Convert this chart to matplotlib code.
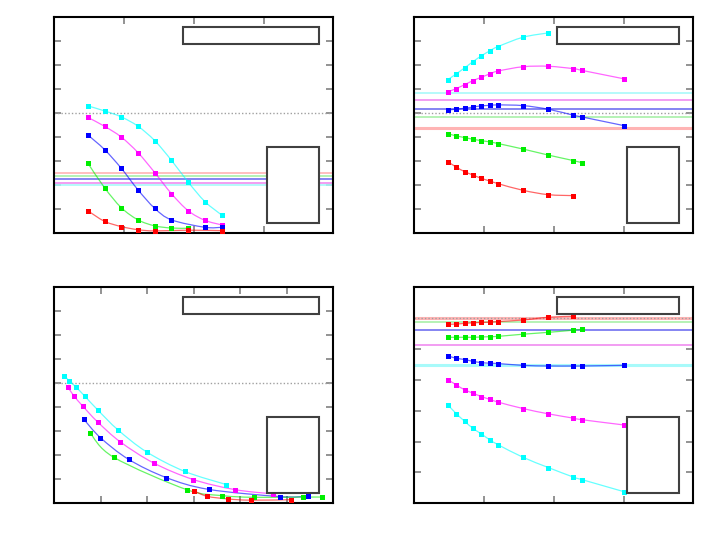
import matplotlib
matplotlib.use("Agg")
import matplotlib.pyplot as plt
from matplotlib.patches import Rectangle, PathPatch
from matplotlib.path import Path

# ---------------- data ----------------
# top-left panel
tl_x = [0.24, 0.36, 0.48, 0.60, 0.72, 0.84, 0.96, 1.08, 1.20]
tl_cyan = [5.31, 5.10, 4.85, 4.46, 3.86, 3.04, 2.13, 1.32, 0.76]
tl_magenta = [4.83, 4.46, 4.01, 3.36, 2.53, 1.65, 0.94, 0.54, 0.35]
tl_blue_x = [0.24, 0.36, 0.48, 0.60, 0.72, 0.84, 1.08, 1.20]
tl_blue = [4.10, 3.49, 2.71, 1.81, 1.04, 0.56, 0.25, 0.25]
tl_green_x = [0.24, 0.36, 0.48, 0.60, 0.72, 0.84, 0.96]
tl_green = [2.93, 1.90, 1.07, 0.56, 0.31, 0.22, 0.21]
tl_red_x = [0.24, 0.36, 0.48, 0.60, 0.72, 0.96, 1.20]
tl_red = [0.94, 0.50, 0.28, 0.15, 0.10, 0.13, 0.11]
tl_hlines = {"red": 2.50, "green": 2.40, "blue": 2.25, "magenta": 2.10, "cyan": 2.00}
tl_dotted = 5.0

# top-right panel
tr_x = [0.24, 0.30, 0.36, 0.42, 0.48, 0.54, 0.60, 0.78, 0.96, 1.14, 1.20, 1.50]
tr_cyan = [6.40, 6.64, 6.89, 7.15, 7.39, 7.60, 7.78, 8.17, 8.35]
tr_magenta = [5.89, 6.03, 6.19, 6.36, 6.50, 6.64, 6.76, 6.94, 6.96, 6.86, 6.79, 6.44]
tr_blue = [5.14, 5.17, 5.21, 5.26, 5.31, 5.33, 5.35, 5.32, 5.17, 4.92, 4.85, 4.49]
tr_green = [4.15, 4.06, 3.99, 3.92, 3.86, 3.81, 3.74, 3.51, 3.26, 3.03, 2.94]
tr_red = [2.99, 2.76, 2.57, 2.43, 2.29, 2.18, 2.07, 1.79, 1.61, 1.57]
tr_hlines = {"cyan": 5.83, "magenta": 5.56, "blue": 5.17, "green": 4.83, "red": 4.40}
tr_dotted = 5.0

# bottom-left panel
bl_cyan_x = [0.215, 0.315, 0.459, 0.652, 0.939, 1.369, 1.986, 2.803, 3.699]
bl_cyan = [5.32, 5.11, 4.86, 4.47, 3.88, 3.06, 2.14, 1.33, 0.78]
bl_magenta_x = [0.287, 0.416, 0.616, 0.932, 1.419, 2.136, 2.989, 3.885, 4.710]
bl_magenta = [4.86, 4.49, 4.04, 3.39, 2.56, 1.68, 0.99, 0.57, 0.39]
bl_blue_x = [0.631, 0.989, 1.599, 2.409, 3.319, 4.853, 5.448]
bl_blue = [3.51, 2.74, 1.83, 1.07, 0.58, 0.28, 0.29]
bl_green_x = [0.767, 1.276, 2.846, 3.613, 4.294, 5.348, 5.763]
bl_green = [2.94, 1.92, 0.57, 0.32, 0.25, 0.26, 0.26]
bl_red_x = [3.011, 3.290, 3.742, 4.222, 5.090]
bl_red = [0.51, 0.29, 0.18, 0.13, 0.15]
bl_dotted = 5.0

# bottom-right panel
br_x = [0.24, 0.30, 0.36, 0.42, 0.48, 0.54, 0.60, 0.78, 0.96, 1.14, 1.20, 1.50]
br_red = [5.80, 5.81, 5.83, 5.85, 5.86, 5.87, 5.89, 5.94, 6.03, 6.06]
br_green = [5.38, 5.38, 5.38, 5.38, 5.39, 5.40, 5.41, 5.48, 5.54, 5.61, 5.64]
br_blue = [4.78, 4.70, 4.66, 4.60, 4.56, 4.54, 4.53, 4.47, 4.45, 4.45, 4.45, 4.47]
br_magenta = [4.01, 3.84, 3.68, 3.57, 3.46, 3.37, 3.28, 3.07, 2.90, 2.76, 2.71, 2.54]
br_cyan = [3.19, 2.91, 2.66, 2.43, 2.25, 2.06, 1.90, 1.49, 1.16, 0.85, 0.77, 0.38]
br_hlines = {"red": 6.01, "green": 5.87, "blue": 5.61, "magenta": 5.12, "cyan": 4.48}
br_dotted = 6.01

# ---------------- style ----------------
COL = {"red": "#ff0000", "green": "#00ee00", "blue": "#0000ff",
       "magenta": "#ff00ff", "cyan": "#00ffff"}
HCOL = {"red": "#ffb4b4", "green": "#a8f0a8", "blue": "#7070f0",
        "magenta": "#f08cf0", "cyan": "#a8fafa"}

W, H = 720, 539
fig = plt.figure(figsize=(7.2, 5.39), dpi=100)


def make_ax(left_px, top_px, xlim, ylim, xticks, yticks):
    ax = fig.add_axes([left_px / W, 1 - (top_px + 216) / H, 279 / W, 216 / H])
    ax.set_xlim(*xlim)
    ax.set_ylim(*ylim)
    ax.set_xticks(xticks)
    ax.set_yticks(yticks)
    ax.set_xticklabels([])
    ax.set_yticklabels([])
    ax.tick_params(direction="in", top=True, right=True, length=5,
                   width=1.2, color="#808080")
    for s in ax.spines.values():
        s.set_linewidth(1.5)
        s.set_color("black")
    return ax


def smooth_path(x, y):
    """Cubic Bezier path through the points (Catmull-Rom style handles)."""
    n = len(x)
    verts = [(x[0], y[0])]
    codes = [Path.MOVETO]
    for i in range(n - 1):
        x0, y0 = (x[i - 1], y[i - 1]) if i > 0 else (x[i], y[i])
        x1, y1 = x[i], y[i]
        x2, y2 = x[i + 1], y[i + 1]
        x3, y3 = (x[i + 2], y[i + 2]) if i + 2 < n else (x2, y2)
        c1 = (x1 + (x2 - x0) / 6, y1 + (y2 - y0) / 6)
        c2 = (x2 - (x3 - x1) / 6, y2 - (y3 - y1) / 6)
        verts += [c1, c2, (x2, y2)]
        codes += [Path.CURVE4] * 3
    return Path(verts, codes)


def series(ax, x, y, c):
    xs = list(x[:len(y)])
    ax.add_patch(PathPatch(smooth_path(xs, y), facecolor="none",
                           edgecolor=COL[c], lw=0.9, alpha=0.6, zorder=3))
    ax.plot(xs, y, "s", color=COL[c], ms=3.6, mew=0, zorder=4)


def hlines(ax, d, thick=()):
    for c, v in d.items():
        ax.axhline(v, color=HCOL[c], lw=2.2 if c in thick else 1.2, zorder=2)


def dotted(ax, v):
    ax.axhline(v, color="#a0a0a0", lw=1.0, ls=(0, (1, 1.5)), zorder=2.5)


def boxes(ax, top_left_x):
    ax.add_patch(Rectangle((top_left_x, 0.877), 0.95 - top_left_x, 0.078,
                           transform=ax.transAxes, facecolor="white",
                           edgecolor="#404040", lw=1.5, zorder=10))
    ax.add_patch(Rectangle((0.761, 0.049), 0.189, 0.350,
                           transform=ax.transAxes, facecolor="white",
                           edgecolor="#404040", lw=1.5, zorder=10))


# top-left
ax1 = make_ax(54.3, 17.3, (0, 2), (0, 9), [0, 0.5, 1, 1.5, 2], range(10))
hlines(ax1, tl_hlines)
dotted(ax1, tl_dotted)
series(ax1, tl_x, tl_cyan, "cyan")
series(ax1, tl_x, tl_magenta, "magenta")
series(ax1, tl_blue_x, tl_blue, "blue")
series(ax1, tl_green_x, tl_green, "green")
series(ax1, tl_red_x, tl_red, "red")
boxes(ax1, 0.46)

# top-right
ax2 = make_ax(414.3, 17.3, (0, 2), (0, 9), [0, 0.5, 1, 1.5, 2], range(10))
hlines(ax2, tr_hlines, thick=("red",))
dotted(ax2, tr_dotted)
series(ax2, tr_x, tr_cyan, "cyan")
series(ax2, tr_x, tr_magenta, "magenta")
series(ax2, tr_x, tr_blue, "blue")
series(ax2, tr_x, tr_green, "green")
series(ax2, tr_x, tr_red, "red")
boxes(ax2, 0.511)

# bottom-left
ax3 = make_ax(54.3, 287.3, (0, 6), (0, 9), range(7), range(10))
dotted(ax3, bl_dotted)
series(ax3, bl_cyan_x, bl_cyan, "cyan")
series(ax3, bl_magenta_x, bl_magenta, "magenta")
series(ax3, bl_blue_x, bl_blue, "blue")
series(ax3, bl_green_x, bl_green, "green")
series(ax3, bl_red_x, bl_red, "red")
boxes(ax3, 0.46)

# bottom-right
ax4 = make_ax(414.3, 287.3, (0, 2), (0, 7), [0, 0.5, 1, 1.5, 2], range(8))
hlines(ax4, br_hlines, thick=("red", "cyan"))
dotted(ax4, br_dotted)
series(ax4, br_x, br_red, "red")
series(ax4, br_x, br_green, "green")
series(ax4, br_x, br_blue, "blue")
series(ax4, br_x, br_magenta, "magenta")
series(ax4, br_x, br_cyan, "cyan")
boxes(ax4, 0.511)

fig.savefig("out.png", dpi=100)
